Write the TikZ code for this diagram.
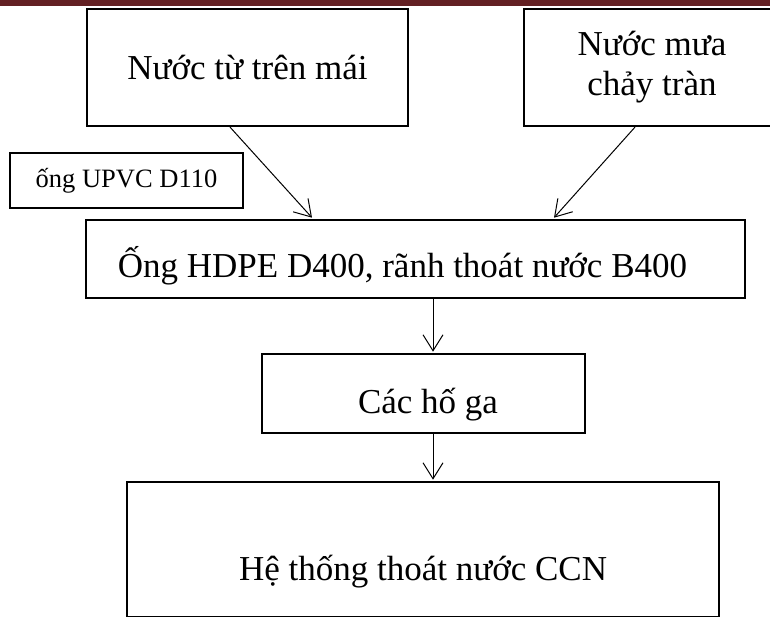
\documentclass[tikz,border=0pt]{standalone}
\usepackage{fontspec}
\setmainfont{Liberation Serif}
\usetikzlibrary{arrows.meta}
\definecolor{headred}{RGB}{99,32,35}
\tikzset{
  mainbox/.style={draw=black, line width=2.2pt, rectangle, inner sep=0pt,
    align=center, font=\fontsize{35}{40}\selectfont},
  notebox/.style={draw=black, line width=1.1pt, rectangle, inner sep=0pt,
    align=center, font=\fontsize{26.5}{30}\selectfont},
  flow/.style={line width=1pt, -{Straight Barb[length=16pt,width=20pt,line width=1pt]}}
}
\begin{document}
\begin{tikzpicture}[x=1pt,y=-1pt]
\clip (0,0) rectangle (770,617);
\fill[white] (0,0) rectangle (770,617);
\fill[headred] (0,0) rectangle (770,6);

\node[mainbox, minimum width=321pt, minimum height=117pt, text height=25pt, text depth=0pt] (b1) at (247.5,67.5) {Nước từ trên mái};
\node[mainbox, minimum width=256pt, minimum height=117pt] (b2) at (652,67.5) {Nước mưa\\chảy tràn};
\node[notebox, minimum width=233pt, minimum height=55pt] (lbl) at (126.5,180.5) {ống UPVC D110};
\node[mainbox, minimum width=659pt, minimum height=78pt, text height=38pt, text depth=0pt] (b3) at (415.5,259) {Ống HDPE D400, rãnh thoát nước B400\hspace*{26pt}};
\node[mainbox, minimum width=323pt, minimum height=79pt, text height=39pt, text depth=0pt] (b4) at (423.5,393.5) {\hspace*{9pt}Các hố ga};
\node[mainbox, minimum width=592pt, minimum height=135pt, text height=62pt, text depth=0pt] (b5) at (423,549.5) {Hệ thống thoát nước CCN};

\coordinate (s1) at (230,0);
\coordinate (e1) at (312,0);
\coordinate (s2) at (635,0);
\coordinate (e2) at (554,0);
\coordinate (c3) at (433,0);

\draw[flow] (s1 |- b1.south) -- ([yshift=1.2pt]e1 |- b3.north);
\draw[flow] (s2 |- b2.south) -- ([yshift=1.2pt]e2 |- b3.north);
\draw[flow] (c3 |- b3.south) -- ([yshift=1.2pt]c3 |- b4.north);
\draw[flow] (c3 |- b4.south) -- ([yshift=1.2pt]c3 |- b5.north);
\end{tikzpicture}
\end{document}
